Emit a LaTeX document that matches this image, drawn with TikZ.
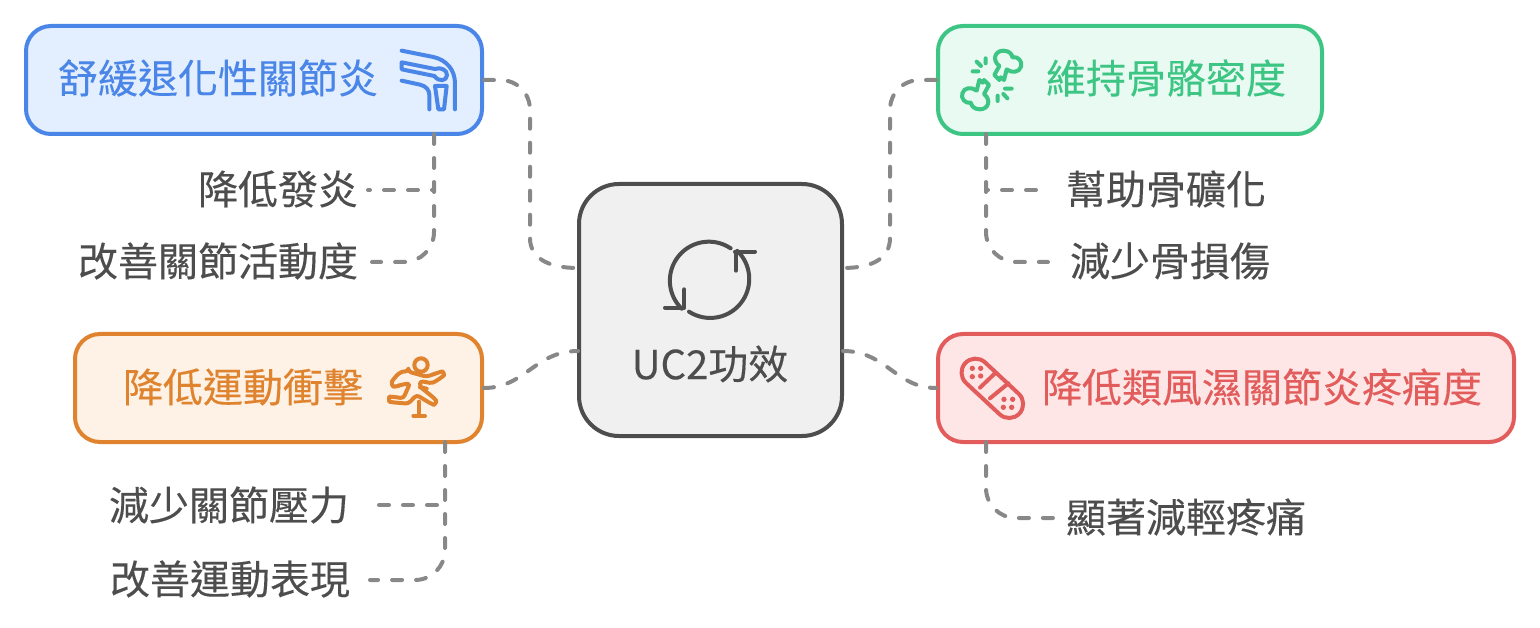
\documentclass[tikz,border=0pt]{standalone}
\usepackage{fontspec}
\setmainfont{Noto Sans CJK TC}[FakeBold=0.25]
\definecolor{cblue}{HTML}{4A86E8}\definecolor{fblue}{HTML}{E3EEFF}
\definecolor{cgreen}{HTML}{3CC583}\definecolor{fgreen}{HTML}{E8FAF2}
\definecolor{corange}{HTML}{E0832F}\definecolor{forange}{HTML}{FEF2E6}
\definecolor{cred}{HTML}{E25C5C}\definecolor{fred}{HTML}{FFE6E6}
\definecolor{cdark}{HTML}{4D4D4D}\definecolor{fdark}{HTML}{F0F0F0}
\definecolor{cline}{HTML}{888888}
\tikzset{
 boxshape/.style={line width=4pt,rounded corners=25pt,minimum height=108pt,inner sep=0pt},
 title/.style={font=\fontsize{40}{46}\selectfont,inner sep=0pt},
 sublabel/.style={font=\fontsize{40}{46}\selectfont,text=cdark,inner sep=0pt},
 link/.style={draw=cline,line width=4pt,dash pattern=on 10pt off 14pt,line cap=round,rounded corners=30pt},
 plainlink/.style={link,rounded corners=0pt},
 branch/.style={link,dash phase=8pt},
 icon/.style={line width=4pt,line cap=round,line join=round},
}
\begin{document}
\begin{tikzpicture}[x=1pt,y=-1pt]
\useasboundingbox (0,0) rectangle (1540,628);
% boxes
\node[boxshape,draw=cblue,fill=fblue,minimum width=456pt] (blue) at (254,80) {};
\node[boxshape,draw=cgreen,fill=fgreen,minimum width=384pt] (green) at (1130,80) {};
\node[boxshape,draw=corange,fill=forange,minimum width=407pt] (orange) at (278.5,388) {};
\node[boxshape,draw=cred,fill=fred,minimum width=576pt] (red) at (1226,388) {};
\node[boxshape,draw=cdark,fill=fdark,minimum width=263pt,minimum height=252pt,rounded corners=40pt] (hub) at (710.5,310) {};
% titles
\node[title,text=cblue] (tblue) at (218,78) {舒緩退化性關節炎};
\node[title,text=cgreen] (tgreen) at (1166,78) {維持骨骼密度};
\node[title,text=corange] (torange) at (243,387) {降低運動衝擊};
\node[title,text=cred] (tred) at (1262,387) {降低類風濕關節炎疼痛度};
\node[title,text=cdark] (thub) at (710,364) {UC2功效};
% sub labels
\node[sublabel] (b1) at (278,189) {降低發炎};
\node[sublabel] (b2) at (218,261) {改善關節活動度};
\node[sublabel] (g1) at (1166,189) {幫助骨礦化};
\node[sublabel] (g2) at (1170,261) {減少骨損傷};
\node[sublabel] (o1) at (229,505) {減少關節壓力};
\node[sublabel] (o2) at (230,579) {改善運動表現};
\node[sublabel] (r1) at (1186,517) {顯著減輕疼痛};
% anchors on the hub and free ends
\coordinate (hw1) at (578,268);\coordinate (hw2) at (578,351);
\coordinate (he1) at (843,268);\coordinate (he2) at (843,351);
\coordinate (bx) at (434,134);\coordinate (gx) at (986,134);
\coordinate (ox) at (445,442);\coordinate (rx) at (986,442);
\coordinate (b1e) at (368,190);\coordinate (b2e) at (372,262);
\coordinate (g1e) at (1037,190);\coordinate (g2e) at (1048,262);
\coordinate (o1e) at (379,505);\coordinate (o2e) at (370,580);
\coordinate (r1e) at (1053,518);
% connectors
\draw[plainlink] (blue.east) -- (500,80) .. controls (517,80) and (530,93) .. (530,110) -- (530,238) .. controls (530,258) and (548,268) .. (hw1);
\draw[plainlink] (green.west) -- (920,80) .. controls (903,80) and (890,93) .. (890,110) -- (890,238) .. controls (890,258) and (873,268) .. (he1);
\draw[plainlink] (orange.east) .. controls (525,388) and (535,351) .. (hw2);
\draw[plainlink] (he2) .. controls (886,351) and (896,388) .. (red.west);
\draw[link] (bx) -- (bx |- b2e) -- (b2e);
\draw[branch] (bx |- b1e) -- (b1e);
\draw[link] (gx) -- (gx |- g2e) -- (g2e);
\draw[branch] (gx |- g1e) -- (g1e);
\draw[link] (ox) -- (ox |- o2e) -- (o2e);
\draw[branch,dash phase=16pt] (ox |- o1e) -- (o1e);
\draw[link] (rx) -- (rx |- r1e) -- (r1e);
% knee icon
\begin{scope}[shift={(380,30)},x=0.3333pt,y=-0.3333pt,icon,draw=cblue]
\draw (65,62) -- (160,81) .. controls (200,90) and (225,120) .. (225,160) -- (225,238);
\draw (163,138) -- (65,118) -- (65,97) -- (165,117) .. controls (180,110) and (203,120) .. (201,136) .. controls (200,152) and (178,158) .. (163,138);
\draw (65,152) -- (120,164) .. controls (138,168) and (148,180) .. (148,195) -- (148,238);
\draw (165,168) -- (200,168) -- (192,238) -- (175,238) -- cycle;
\end{scope}
% bones icon
\begin{scope}[shift={(950,30)},x=0.3333pt,y=-0.3333pt,icon,draw=cgreen]
\draw (148,108) .. controls (125,90) and (135,62) .. (160,62) .. controls (180,62) and (187,75) .. (187,82) .. controls (205,78) and (218,95) .. (213,110) .. controls (208,128) and (185,130) .. (170,118) -- (162,150) -- (152,142) -- (148,150) -- (133,135) -- cycle;
\draw (102,192) .. controls (125,210) and (115,238) .. (90,238) .. controls (70,238) and (63,225) .. (63,218) .. controls (45,222) and (32,205) .. (37,190) .. controls (42,172) and (65,170) .. (80,182) -- (88,150) -- (98,158) -- (102,150) -- (117,165) -- cycle;
\draw (80,95) -- (93,108) (107,85) -- (107,100) (68,124) -- (85,124);
\draw (165,176) -- (185,176) (160,192) -- (172,205) (143,197) -- (143,213);
\end{scope}
% runner icon
\begin{scope}[shift={(375,345)},x=0.3333pt,y=-0.3333pt,icon,draw=corange]
\draw (138,60) circle (20);
\draw[rounded corners=3pt] (100,80) -- (155,95) -- (192,82) .. controls (205,78) and (208,90) .. (200,97) -- (172,115) -- (135,108) -- (135,125) -- (178,160) .. controls (186,170) and (178,180) .. (168,176) -- (125,150) -- (100,176) -- (52,172) .. controls (42,170) and (42,155) .. (52,155) -- (85,160) -- (105,115) -- (75,120) -- (65,125) .. controls (52,125) and (48,112) .. (58,100) .. controls (68,88) and (80,78) .. (100,80) -- cycle;
\draw (132,170) -- (132,213) (115,213) -- (150,213);
\draw (135,127) -- (155,131);
\end{scope}
% bandage icon
\begin{scope}[shift={(945,345)},x=0.3333pt,y=-0.3333pt,icon,draw=cred]
\draw[rotate around={-43:(142,130)},rounded corners=14pt] (31,88) rectangle (253,172);
\draw (105,128) -- (150,85) (135,160) -- (190,115);
\fill[cred] (82,70) circle (8) (107,70) circle (8) (82,95) circle (8) (107,93) circle (8)
 (177,163) circle (8) (203,163) circle (8) (175,187) circle (8) (200,187) circle (8);
\end{scope}
% cycle icon
\begin{scope}[shift={(640,220)},x=0.3333pt,y=-0.3333pt,icon,draw=cdark]
\draw (272,85) arc (-56:-226:117);
\draw (147,275) arc (-237:-406:117);
\draw (345,95) -- (285,95) (288,95) -- (288,152);
\draw (75,263) -- (133,263) -- (133,208);
\end{scope}
\end{tikzpicture}
\end{document}
